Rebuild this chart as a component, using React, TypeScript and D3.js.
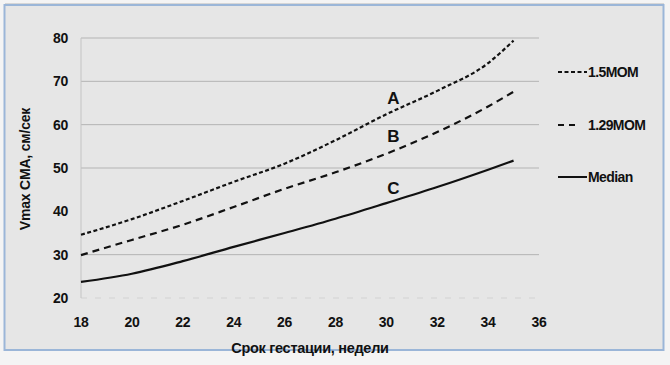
import React from "react";
import * as d3 from "d3";

const weeks = [18, 20, 22, 24, 26, 28, 30, 32, 34, 35];
const seriesA = [34.6, 38.2, 42.4, 46.8, 51.0, 56.4, 62.4, 67.8, 74.2, 79.4];
const seriesB = [29.9, 33.4, 36.9, 41.0, 45.2, 49.0, 53.3, 58.3, 64.2, 67.6];
const seriesC = [23.7, 25.6, 28.5, 31.8, 35.0, 38.3, 41.9, 45.6, 49.6, 51.7];
const xTicks = [18, 20, 22, 24, 26, 28, 30, 32, 34, 36];
const yTicks = [20, 30, 40, 50, 60, 70, 80];
const gridValues = [30, 50, 60, 70, 80];
const legendLabels = ["1.5MOM", "1.29MOM", "Median"];
const curveLabels = ["A", "B", "C"];
const labelAt = [{ x: 30, v: 66.1 }, { x: 30, v: 57.3 }, { x: 30, v: 45.4 }];

const W = 670;
const H = 365;
const FONT = "'Liberation Sans', Arial, sans-serif";

export default function App() {
  const x = d3.scaleLinear().domain([18, 36]).range([81, 539]);
  const y = d3.scaleLinear().domain([20, 80]).range([298, 38]);
  const line = d3
    .line<[number, number]>()
    .x((d) => x(d[0]))
    .y((d) => y(d[1]))
    .curve(d3.curveMonotoneX);
  const mk = (s: number[]) => line(weeks.map((w, i) => [w, s[i]] as [number, number])) || "";

  const series = [
    { data: seriesA, dash: "4,2.5" },
    { data: seriesB, dash: "7,5" },
    { data: seriesC, dash: "" },
  ];
  const legendY = [72, 125, 177];

  return (
    <div style={{ position: "absolute", left: 0, top: 0 }}>
      <svg width={W} height={H} style={{ display: "block" }}>
        <rect x={0} y={0} width={W} height={H} fill="#f4f4f4" />
        <rect x={4.5} y={5} width={659} height={345} fill="#e6e6e6" stroke="#9bb6d8" strokeWidth={2} />
        <line x1={5} x2={664} y1={3.5} y2={3.5} stroke="#d6d6d6" strokeWidth={1} />
        {gridValues.map((v) => (
          <line key={v} x1={x(18)} x2={x(36)} y1={y(v)} y2={y(v)} stroke="#b4b4b4" strokeWidth={1} />
        ))}
        <line x1={x(18)} x2={x(36)} y1={y(20)} y2={y(20)} stroke="#d2d2d2" strokeWidth={1} strokeDasharray="6,8" />
        <line x1={x(18)} x2={x(18)} y1={y(80)} y2={y(20)} stroke="#c4c4c4" strokeWidth={1} />
        {yTicks.map((v) => (
          <text key={v} x={68} y={y(v)} dy="0.35em" textAnchor="end" fontFamily={FONT} fontWeight="bold" fontSize={14} fill="#111" letterSpacing={-0.3}>
            {v}
          </text>
        ))}
        {xTicks.map((v) => (
          <text key={v} x={x(v)} y={322} dy="0.35em" textAnchor="middle" fontFamily={FONT} fontWeight="bold" fontSize={14} fill="#111" letterSpacing={-0.3}>
            {v}
          </text>
        ))}
        <text x={310} y={348} dy="0.35em" textAnchor="middle" fontFamily={FONT} fontWeight="bold" fontSize={14.5} fill="#111" letterSpacing={-0.3}>
          Срок гестации, недели
        </text>
        <text
          transform={`translate(25,169) rotate(-90)`}
          dy="0.35em"
          textAnchor="middle"
          fontFamily={FONT}
          fontWeight="bold"
          fontSize={14}
          fill="#111"
          letterSpacing={-0.2}
        >
          Vmax CMA, см/сек
        </text>
        {series.map((s, i) => (
          <path key={i} d={mk(s.data)} fill="none" stroke="#111" strokeWidth={2.2} strokeDasharray={s.dash || undefined} />
        ))}
        {curveLabels.map((t, i) => (
          <text key={t} x={x(labelAt[i].x) + 7} y={y(labelAt[i].v)} dy="0.35em" textAnchor="middle" fontFamily={FONT} fontWeight="bold" fontSize={17} fill="#111">
            {t}
          </text>
        ))}
        {legendLabels.map((t, i) => (
          <g key={t}>
            <line
              x1={558}
              x2={i === 1 ? 575 : 587}
              y1={legendY[i]}
              y2={legendY[i]}
              stroke="#111"
              strokeWidth={2}
              strokeDasharray={i === 1 ? "6,5" : series[i].dash || undefined}
            />
            <text x={588} y={legendY[i]} dy="0.35em" fontFamily={FONT} fontWeight="bold" fontSize={14} fill="#111" letterSpacing={-0.6}>
              {t}
            </text>
          </g>
        ))}
      </svg>
    </div>
  );
}
